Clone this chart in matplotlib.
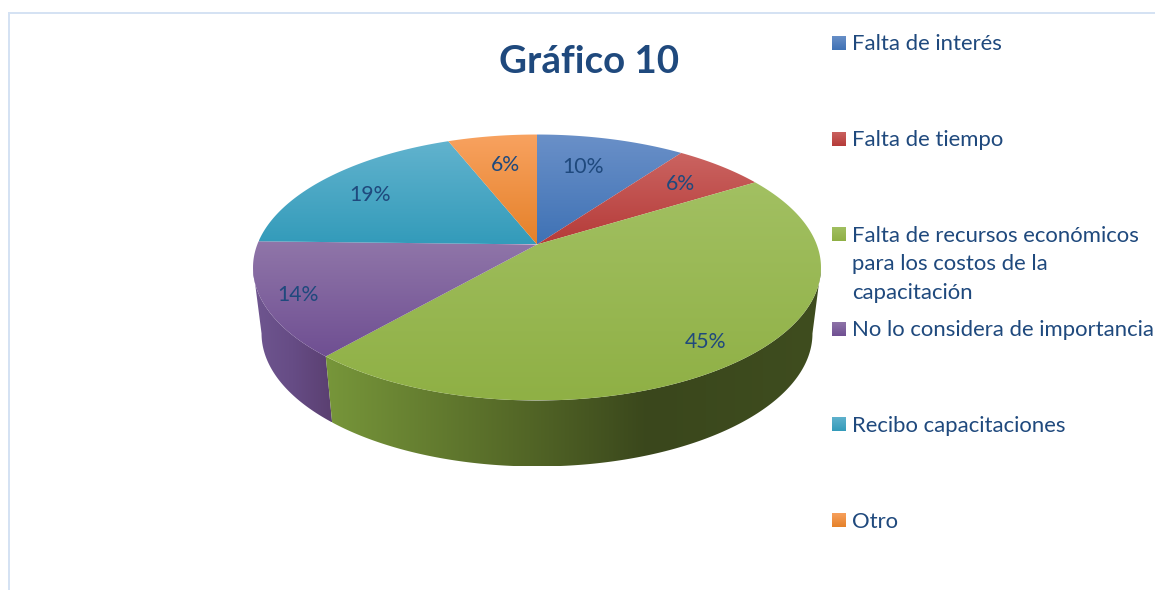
import numpy as np
import matplotlib
matplotlib.use("Agg")
import matplotlib.pyplot as plt
from matplotlib.colors import LinearSegmentedColormap
from matplotlib.patches import Polygon, Rectangle

categories = ["Falta de interés", "Falta de tiempo",
              "Falta de recursos económicos\npara los costos de la\ncapacitación",
              "No lo considera de importancia", "Recibo capacitaciones", "Otro"]
values = [10, 6.2, 45.2, 14, 18.6, 6]
percent_labels = ["10%", "6%", "45%", "14%", "19%", "6%"]
title = "Gráfico 10"

top_colors = [("#6A90C8", "#3F72B5"), ("#CB6461", "#B53B39"), ("#A2C062", "#8FB045"),
              ("#9076A9", "#6F4F92"), ("#62B3CE", "#339BBA"), ("#F8A260", "#E58129")]
wall_colors = {2: [(0, "#77963A"), (0.41, "#526526"), (0.65, "#3A471C"), (1, "#3F4D1F")],
               3: [(0, "#6F5690"), (0.5, "#664C85"), (1, "#5A3F70")]}
label_xy = [(583, 167), (680, 184), (706, 342), (298, 295), (370, 195), (505, 165)]
legend_y = [43, 139, 234, 329, 424, 520]
text_color = "#1F497D"
font = "Lato"

CX, CY, A, B, K, WALL = 537, 244.5, 129, 279.7, 0.173, 66


def rim(frac, scale=1.0, drop=0.0):
    ang = 2 * np.pi * np.asarray(frac)
    x, y = np.sin(ang), np.cos(ang)
    d = 1 + K * y
    return CX + scale * B * x / d, CY - A * y / d + drop


def grad(ax, poly_xy, colors, horizontal=False, zorder=2):
    cmap = LinearSegmentedColormap.from_list("g", colors)
    xs, ys = poly_xy[:, 0], poly_xy[:, 1]
    extent = (xs.min(), xs.max(), ys.max(), ys.min())
    g = np.linspace(0, 1, 256)
    data = g[None, :] if horizontal else g[:, None]
    im = ax.imshow(data, cmap=cmap, extent=extent, aspect="auto",
                   interpolation="bilinear", origin="upper", zorder=zorder)
    patch = Polygon(poly_xy, closed=True, transform=ax.transData, fc="none", ec="none")
    ax.add_patch(patch)
    im.set_clip_path(patch)


fig = plt.figure(figsize=(11.55, 5.90), dpi=100)
ax = fig.add_axes([0, 0, 1, 1])

edges = np.cumsum([0] + values) / sum(values)

# side wall: only the arc between the two widest points of the rim faces the viewer
right_widest = np.arccos(-K) / (2 * np.pi)
left_widest = 1 - right_widest
for i, lo, hi in ((3, edges[3], left_widest), (2, right_widest, edges[3])):
    t = np.linspace(lo, hi, 200)
    x1, y1 = rim(t)
    x2, y2 = rim(t[::-1], scale=0.97, drop=WALL)
    poly = np.column_stack([np.r_[x1, x2], np.r_[y1, y2]])
    grad(ax, poly, wall_colors[i], horizontal=True, zorder=2)

# top face
for i in range(len(values)):
    t = np.linspace(edges[i], edges[i + 1], 200)
    x, y = rim(t)
    poly = np.column_stack([np.r_[CX, x], np.r_[CY, y]])
    grad(ax, poly, top_colors[i], zorder=3)

for s, xy in zip(percent_labels, label_xy):
    ax.text(xy[0], xy[1], s, color=text_color, fontsize=15.3, family=font,
            ha="center", va="center", zorder=5)

ax.text(589.5, 62, title, color=text_color, fontsize=27.7, family=font, fontweight="bold",
        ha="center", va="center", zorder=5)

for i, (cat, y) in enumerate(zip(categories, legend_y)):
    r = np.array([[832, y - 7.5], [846, y - 7.5], [846, y + 7.5], [832, y + 7.5]])
    grad(ax, r, top_colors[i], zorder=3)
    ax.text(852, y - 8.5, cat, color=text_color, fontsize=15.9, family=font,
            ha="left", va="top", linespacing=1.55, zorder=5)

# frame of the chart area
ax.add_patch(Rectangle((8, 12), 2, 578, fc="#D5E2F3", ec="none"))
ax.add_patch(Rectangle((8, 12), 1147, 1.5, fc="#D5E2F3", ec="none"))

ax.set_xlim(0, 1155)
ax.set_ylim(590, 0)
ax.axis("off")
fig.savefig("out.png", dpi=100, facecolor="white")
